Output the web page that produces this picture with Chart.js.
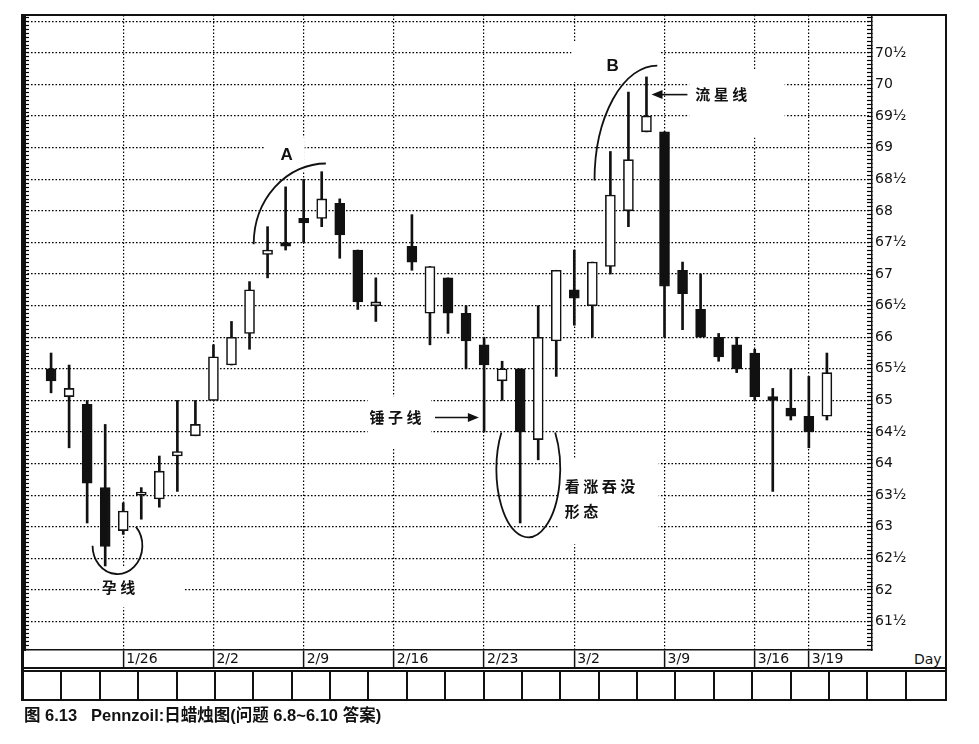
<!DOCTYPE html>
<html>
<head>
<meta charset="utf-8">
<title>Pennzoil 日蜡烛图</title>
<script src="https://cdn.jsdelivr.net/npm/chart.js@4.4.0/dist/chart.umd.min.js"></script>
<style>
  body { margin: 0; background: #fff; }
  #wrap { position: relative; width: 979px; height: 744px; }
  #frame { position: absolute; left: 21px; top: 14px; width: 926px; height: 687px; box-sizing: border-box;
           border: 2px solid #111; border-left-width: 3px; }
  #cells { position: absolute; left: 24px; top: 667px; width: 921px; height: 32px; box-sizing: border-box;
           border-top: 5px double #111; display: grid; grid-template-columns: repeat(24, 1fr); }
  #cells div { border-right: 2px solid #111; }
  #cells div:last-child { border-right: none; }
  #day { position: absolute; left: 914px; top: 651px; font: 14px "DejaVu Sans", sans-serif; color: #111; }
  #pennzoil { position: absolute; left: 0; top: 0; }
</style>
</head>
<body>
<div id="wrap">
  <div id="frame"></div>
  <div id="cells"></div>
  <div id="day">Day</div>
  <canvas id="pennzoil" width="979" height="744"></canvas>
</div>
<script>
// trading days (weekdays), empty slots are market holidays / after the last bar
var dates = ['1/19','1/20','1/21','1/22','1/23','1/26','1/27','1/28','1/29','1/30',
             '2/2','2/3','2/4','2/5','2/6','2/9','2/10','2/11','2/12','2/13',
             '2/16','2/17','2/18','2/19','2/20','2/23','2/24','2/25','2/26','2/27',
             '3/2','3/3','3/4','3/5','3/6','3/9','3/10','3/11','3/12','3/13',
             '3/16','3/17','3/18','3/19','3/20','3/23','3/24'];
var weekMarks = ['1/26','2/2','2/9','2/16','2/23','3/2','3/9','3/16','3/19'];

var open  = [null, 65.5, 65.06, 64.94, 63.62, 62.94, 63.5, 63.44, 64.12, 64.44,
             65.0, 65.56, 66.06, 67.31, 67.5, 67.88, 67.88, 68.12, 67.38, 66.5,
             null, 67.44, 66.38, 66.94, 66.38, 65.88, 65.31, 65.5, 64.38, 65.94,
             66.75, 66.5, 67.12, 68.0, 69.25, 69.25, 67.06, 66.44, 66.0, 65.88,
             65.75, 65.06, 64.88, 64.75, 64.75, null, null];
var high  = [null, 65.75, 65.56, 65.0, 64.62, 63.38, 63.62, 64.12, 65.0, 65.0,
             65.88, 66.25, 66.88, 67.75, 68.38, 68.5, 68.62, 68.19, 67.38, 66.94,
             null, 67.94, 67.12, 66.94, 66.5, 66.0, 65.62, 65.5, 66.5, 67.06,
             67.38, 67.19, 68.94, 69.88, 70.12, 69.25, 67.19, 67.0, 66.06, 66.0,
             65.81, 65.19, 65.5, 65.38, 65.75, null, null];
var low   = [null, 65.12, 64.25, 63.06, 62.38, 62.88, 63.12, 63.31, 63.56, 64.44,
             65.0, 65.56, 65.81, 66.94, 67.38, 67.5, 67.75, 67.25, 66.44, 66.25,
             null, 67.06, 65.88, 66.06, 65.5, 64.5, 65.0, 63.06, 64.06, 65.38,
             66.19, 66.0, 67.0, 67.75, 69.25, 66.0, 66.12, 66.0, 65.62, 65.44,
             65.0, 63.56, 64.69, 64.25, 64.69, null, null];
var close = [null, 65.31, 65.19, 63.69, 62.69, 63.25, 63.5, 63.88, 64.19, 64.62,
             65.69, 66.0, 66.75, 67.38, 67.44, 67.81, 68.19, 67.62, 66.56, 66.56,
             null, 67.19, 67.12, 66.38, 65.94, 65.56, 65.5, 64.5, 66.0, 67.06,
             66.62, 67.19, 68.25, 68.81, 69.5, 66.81, 66.69, 66.0, 65.69, 65.5,
             65.06, 65.0, 64.75, 64.5, 65.44, null, null];

var yMin = 61.05, yMax = 71.1;

// annotation positions in data units (x = day index, v = price)
var cjkFont = 'bold 15px "Noto Sans CJK SC", sans-serif';
var letterFont = 'bold 17px "Liberation Sans", Arial, sans-serif';
var noteTexts = [
  { text: 'A', i: 14.05, v: 68.88, align: 'center', font: letterFont, pad: [16, 12, 10, 8] },
  { text: 'B', i: 32.12, v: 70.29, align: 'center', font: letterFont, pad: [35, 41, 16, 8] },
  { text: '流星线', i: 36.7, v: 69.84, align: 'left', font: cjkFont, pad: [6, 34, 17, 35] },
  { text: '锤子线', i: 21.73, v: 64.73, align: 'right', font: cjkFont, pad: [2, 6, 13, 22] },
  { text: '看涨吞没', i: 29.47, v: 63.64, align: 'left', font: cjkFont, pad: [7, 20, 20, 50] },
  { text: '形态', i: 29.47, v: 63.25, align: 'left', font: cjkFont, pad: [7, 0, 0, 0] },
  { text: '孕线', i: 4.83, v: 62.04, align: 'center', font: cjkFont, pad: [2, 46, 12, 12] }
];
var noteArrows = [
  { from: [36.27, 69.84], to: [34.28, 69.84] },
  { from: [22.28, 64.73], to: [24.71, 64.73] }
];
var noteCurves = [
  { i: 16.23, v: 67.47, ri: 4.0, rv: 1.28, a0: Math.PI, a1: 1.5 * Math.PI },
  { i: 34.6, v: 68.48, ri: 3.48, rv: 1.82, a0: Math.PI, a1: 1.5 * Math.PI },
  { i: 27.45, v: 63.91, ri: 1.77, rv: 1.076, a0: -0.57, a1: Math.PI + 0.57 },
  { i: 4.68, v: 62.70, ri: 1.38, rv: 0.448, a0: -0.74, a1: Math.PI }
];

// bottom row of empty boxes
var cells = document.getElementById('cells');
for (var k = 0; k < 24; k++) cells.appendChild(document.createElement('div'));

var wickData = dates.map(function (d, i) { return open[i] == null ? null : [low[i], high[i]]; });
var bodyData = dates.map(function (d, i) { return open[i] == null ? null : [open[i], close[i]]; });

function halfLabel(v) {
  if (v > 70.5) return '';
  var whole = Math.floor(v);
  return v - whole > 0.25 ? whole + '½' : String(whole);
}

function isMark(ctx) { return weekMarks.indexOf(dates[ctx.index]) >= 0; }

function minorAxis(pos) {
  return {
    type: 'linear', position: pos, min: yMin, max: yMax, weight: 0,
    ticks: { display: false, stepSize: 1 / 16, includeBounds: false, autoSkip: false },
    grid: { drawOnChartArea: false, drawTicks: true, tickLength: -5, tickWidth: 1.2, tickColor: '#000' },
    border: { display: true, color: '#111', width: pos === 'left' ? 3 : 1.5 },
    afterFit: function (s) { s.width = 0; }
  };
}

var notes = {
  id: 'notes',
  beforeDatasetsDraw: function (chart) {
    var c = chart.ctx, xs = chart.scales.x, ys = chart.scales.y;
    c.save();
    c.fillStyle = '#fff';
    noteTexts.forEach(function (n) {
      c.font = n.font;
      c.letterSpacing = n.font === cjkFont ? '3.5px' : '0px';
      var w = c.measureText(n.text).width;
      var x = xs.getPixelForValue(n.i), y = ys.getPixelForValue(n.v);
      var left = n.align === 'left' ? x : n.align === 'right' ? x - w : x - w / 2;
      c.fillRect(left - n.pad[0], y - 8 - n.pad[2], w + n.pad[0] + n.pad[1], 16 + n.pad[2] + n.pad[3]);
    });
    c.restore();
  },
  afterDatasetsDraw: function (chart) {
    var c = chart.ctx, xs = chart.scales.x, ys = chart.scales.y;
    c.save();
    c.fillStyle = '#111';
    c.strokeStyle = '#111';
    c.textBaseline = 'middle';
    noteTexts.forEach(function (n) {
      c.font = n.font;
      c.letterSpacing = n.font === cjkFont ? '3.5px' : '0px';
      var w = c.measureText(n.text).width;
      var x = xs.getPixelForValue(n.i), y = ys.getPixelForValue(n.v);
      var left = n.align === 'left' ? x : n.align === 'right' ? x - w : x - w / 2;
      c.textAlign = 'left';
      c.fillText(n.text, left, y);
    });
    c.lineWidth = 1.8;
    noteCurves.forEach(function (a) {
      var cx = xs.getPixelForValue(a.i), cy = ys.getPixelForValue(a.v);
      var rx = Math.abs(xs.getPixelForValue(a.i + a.ri) - cx);
      var ry = Math.abs(ys.getPixelForValue(a.v + a.rv) - cy);
      c.beginPath();
      c.ellipse(cx, cy, rx, ry, 0, a.a0, a.a1);
      c.stroke();
    });
    c.lineWidth = 1.6;
    noteArrows.forEach(function (a) {
      var x1 = xs.getPixelForValue(a.from[0]), y1 = ys.getPixelForValue(a.from[1]);
      var x2 = xs.getPixelForValue(a.to[0]), y2 = ys.getPixelForValue(a.to[1]);
      var dir = x2 > x1 ? 1 : -1;
      c.beginPath();
      c.moveTo(x1, y1);
      c.lineTo(x2 - dir * 8, y2);
      c.stroke();
      c.beginPath();
      c.moveTo(x2, y2);
      c.lineTo(x2 - dir * 11, y2 - 4.5);
      c.lineTo(x2 - dir * 11, y2 + 4.5);
      c.closePath();
      c.fill();
    });
    c.restore();
  }
};

var chart = new Chart(document.getElementById('pennzoil'), {
  type: 'bar',
  data: {
    labels: dates,
    datasets: [{
      label: 'wick',
      data: wickData,
      backgroundColor: '#111',
      barThickness: 2,
      grouped: false,
      order: 2
    }, {
      label: 'body',
      data: bodyData,
      backgroundColor: function (ctx) {
        var i = ctx.dataIndex;
        return close[i] >= open[i] ? '#fff' : '#111';
      },
      borderColor: '#111',
      borderWidth: 1.6,
      borderSkipped: false,
      barThickness: 10,
      minBarLength: 3,
      grouped: false,
      order: 1
    }]
  },
  options: {
    responsive: false,
    animation: false,
    events: [],
    layout: { padding: { left: 24, right: 33, top: 15, bottom: 0 } },
    plugins: {
      legend: { display: false },
      tooltip: { enabled: false },
      title: {
        display: true,
        position: 'bottom',
        align: 'start',
        text: '图 6.13   Pennzoil:日蜡烛图(问题 6.8~6.10 答案)',
        color: '#111',
        font: { family: '"Liberation Sans", "Noto Sans CJK SC", sans-serif', size: 16.5, weight: 'bold', lineHeight: 1.2 },
        padding: { top: 39, bottom: 17.2 }
      }
    },
    scales: {
      x: {
        type: 'category',
        offset: true,
        ticks: {
          autoSkip: false, maxRotation: 0, minRotation: 0,
          align: 'start', labelOffset: 3, padding: -17,
          color: '#111',
          font: { family: '"DejaVu Sans", sans-serif', size: 14 },
          callback: function (val, i) { return weekMarks.indexOf(dates[i]) >= 0 ? dates[i] : ''; }
        },
        grid: {
          offset: false,
          lineWidth: 1.2,
          color: function (ctx) { return isMark(ctx) ? '#000' : 'rgba(0,0,0,0)'; },
          tickColor: function (ctx) { return isMark(ctx) ? '#111' : 'rgba(0,0,0,0)'; },
          tickLength: 18,
          tickWidth: 1.5,
          tickBorderDash: []
        },
        border: { display: true, color: '#111', width: 1.5, dash: [1.6, 1.9] },
        afterFit: function (s) { s.height = 18; }
      },
      y: {
        type: 'linear',
        position: 'right',
        weight: 1,
        min: yMin,
        max: yMax,
        ticks: {
          stepSize: 0.5, includeBounds: false, autoSkip: false, padding: 3,
          color: '#111',
          font: { family: '"DejaVu Sans", sans-serif', size: 14 },
          callback: halfLabel
        },
        grid: { color: '#000', lineWidth: 1.2, drawTicks: false },
        border: { display: false, dash: [1.6, 1.9] },
        afterFit: function (s) { s.width = 74; }
      },
      yl: minorAxis('left'),
      yr: minorAxis('right')
    }
  },
  plugins: [notes]
});
</script>
</body>
</html>
